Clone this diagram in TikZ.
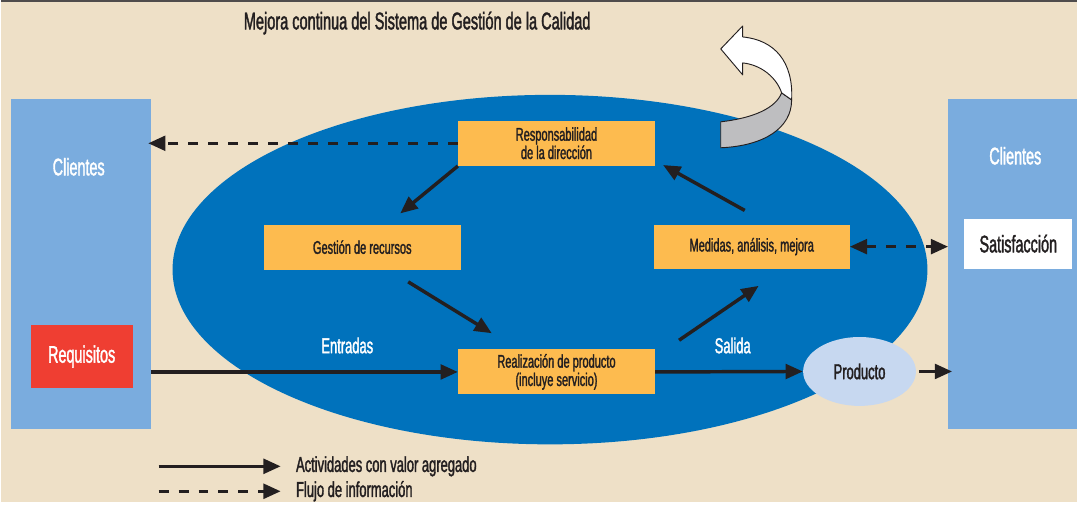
\documentclass[tikz,border=0pt]{standalone}
\usepackage{fontspec}
\setmainfont{Liberation Sans}[FakeStretch=0.6, UprightFeatures={FakeBold=1.5}]
\usetikzlibrary{arrows.meta,shapes.geometric}

\definecolor{fondo}{RGB}{238,224,199}
\definecolor{celeste}{RGB}{122,172,222}
\definecolor{azul}{RGB}{0,114,188}
\definecolor{naranja}{RGB}{253,187,79}
\definecolor{rojo}{RGB}{239,62,50}
\definecolor{pastel}{RGB}{199,216,240}
\definecolor{tinta}{RGB}{35,31,32}
\definecolor{gris}{RGB}{190,190,192}

\begin{document}
\begin{tikzpicture}[x=0.75pt,y=-0.75pt,
    caja/.style={fill=naranja, text=tinta, minimum width=147.75pt, minimum height=33.75pt, inner sep=0pt, align=center, font=\fontsize{13.8}{13.75}\selectfont},
    cliente/.style={fill=celeste, inner sep=0pt, minimum height=248.25pt},
    etiqueta/.style={text=white, font=\fontsize{18}{20}\selectfont},
    texto/.style={font=\fontsize{16.2}{18}\selectfont},
    flecha/.style={line width=2.6pt, draw=tinta, -{Triangle[length=13pt,width=11pt]}},
    info/.style={flecha, dash pattern=on 7.5pt off 7.5pt}
  ]
  \fill[fondo] (0,0) rectangle (1078,503);
  \draw[tinta!80, line width=1.2pt] (0,0.8) -- (1078,0.8);

  \node[text=tinta, font=\fontsize{18.2}{20}\selectfont] (titulo) at (417,23) {Mejora continua del Sistema de Gestión de la Calidad};

  % clientes
  \node[cliente, minimum width=105pt] (cliI) at (80,264.5) {};
  \node[cliente, minimum width=96.75pt] (cliD) at (1013.5,264.5) {};
  \node[etiqueta] (cliItxt) at (78,167) {Clientes};
  \node[etiqueta] (cliDtxt) at (1016,156) {Clientes};
  \node[fill=rojo, etiqueta, minimum width=76.5pt, minimum height=48pt, inner sep=0pt] (req) at (81,357) {Requisitos};
  \node[fill=white, text=tinta, font=\fontsize{18}{20}\selectfont, minimum width=81pt, minimum height=37.5pt, inner sep=0pt] (sat) at (1019,244) {Satisfacción};

  % sistema
  \node[ellipse, fill=azul, minimum width=567pt, minimum height=262.5pt] (sgc) at (550,270) {};

  \filldraw[fill=gris, draw=tinta, line width=0.7pt, line join=round] (721,122) .. controls (755,118) and (776,108) .. (782,93) -- (792,100) .. controls (792,128) and (765,146) .. (721,148) -- cycle;
  \filldraw[fill=white, draw=tinta, line width=0.7pt, line join=round] (721,49) -- (743,26) -- (743,37) .. controls (775,40) and (794,62) .. (792,100) -- (782,93) .. controls (777,78) and (762,65) .. (743,63) -- (743,75) -- cycle;

  \node[caja] (resp) at (556.5,143.5) {Responsabilidad\\de la dirección};
  \node[caja] (gest) at (362,247.5) {Gestión de recursos};
  \node[caja, minimum width=147pt, minimum height=33pt] (med) at (752,247) {Medidas, análisis, mejora};
  \node[caja] (real) at (556.5,372.5) {Realización de producto\\(incluye servicio)};
  \node[ellipse, fill=pastel, text=tinta, texto, minimum width=84.75pt, minimum height=51.75pt, inner sep=0pt] (prod) at (860,372) {Producto};

  \node[etiqueta, texto] (ent) at (347,346) {Entradas};
  \node[etiqueta, texto] (sal) at (733,346) {Salida};

  \draw[flecha] (resp.south west) -- ([shift={(38,-11)}]gest.north);
  \draw[flecha] ([shift={(46,12)}]gest.south) -- ([shift={(34,-16)}]real.north west);
  \draw[flecha] ([shift={(24,-9)}]real.north east) -- ([shift={(7,17)}]med.south);
  \draw[flecha] ([shift={(-7,-14)}]med.north) -- ([shift={(8,-1)}]resp.south east);

  \draw[flecha] (cliI.east |- real.west) -- (real.west);
  \draw[flecha] (real.east) -- (prod.west);
  \draw[flecha] ([xshift=2]prod.east) -- ([xshift=3]cliD.west |- prod.east);

  \draw[info] (resp.west) -- ([xshift=-2]cliI.east |- resp.west);
  \draw[info, {Triangle[length=13pt,width=11pt]}-{Triangle[length=13pt,width=11pt]}] (med.east) -- (cliD.west |- med.east);

  % leyenda
  \node[texto, text=tinta, anchor=west] (ley1) at (291,467) {Actividades con valor agregado};
  \node[texto, text=tinta, anchor=west] (ley2) at (291,492) {Flujo de información};
  \coordinate (l1) at (158,467);
  \coordinate (l2) at (158,492);
  \draw[flecha] (l1) -- ([xshift=-8]ley1.west);
  \draw[info] (l2) -- ([xshift=-8]ley2.west);
\end{tikzpicture}
\end{document}
